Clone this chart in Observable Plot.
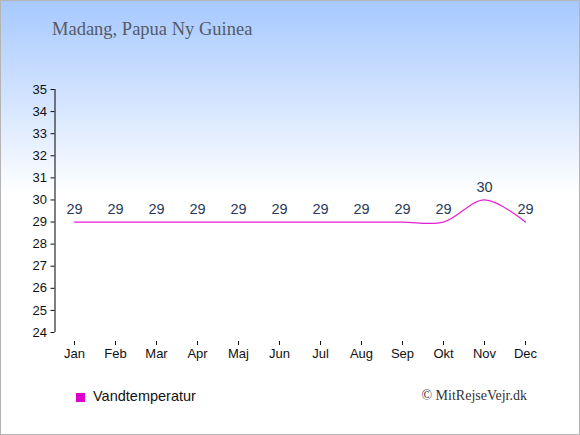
<!DOCTYPE html>
<html>
<head>
<meta charset="utf-8">
<script src="https://cdn.jsdelivr.net/npm/d3@7"></script>
<script src="https://cdn.jsdelivr.net/npm/@observablehq/plot@0.6"></script>
<style>
  body { margin: 0; }
  #wrap {
    position: relative; width: 580px; height: 435px; overflow: hidden;
    background: linear-gradient(to bottom, #a6c9ff 0px, #d3e4ff 100px, #ffffff 195px, #ffffff 435px);
    box-shadow: inset 0 0 0 1px #b4b4b4;
    font-family: "Liberation Sans", Arial, sans-serif;
  }
  #wrap svg { position: absolute; left: 0; top: 0; background: transparent; }
  .title { position: absolute; left: 52px; top: 19px; font-family: "Liberation Serif", serif; font-size: 18.5px; color: #555a66; white-space: nowrap; }
  .legend { position: absolute; left: 76px; top: 388px; font-size: 14.5px; color: #111; white-space: nowrap; }
  .legend .sw { display: inline-block; width: 9px; height: 9px; background: #dd00cc; margin-right: 8px; vertical-align: -1px; }
  .copy { position: absolute; right: 53px; top: 388px; font-family: "Liberation Serif", serif; font-size: 14px; color: #333; white-space: nowrap; }
</style>
</head>
<body>
<div id="wrap">
  <div class="title">Madang, Papua Ny Guinea</div>
  <div class="legend"><span class="sw"></span>Vandtemperatur</div>
  <div class="copy">© MitRejseVejr.dk</div>
</div>
<script>
const months = ["Jan","Feb","Mar","Apr","Maj","Jun","Jul","Aug","Sep","Okt","Nov","Dec"];
const waterTemp = [29,29,29,29,29,29,29,29,29,29,30,29];
const yTicks = [24,25,26,27,28,29,30,31,32,33,34,35];

const data = months.map((m, i) => ({month: m, temp: waterTemp[i]}));

const chart = Plot.plot({
  width: 580,
  height: 435,
  marginLeft: 74,
  marginRight: 55,
  marginTop: 89,
  marginBottom: 103,
  style: {background: "transparent", fontFamily: "'Liberation Sans', Arial, sans-serif"},
  x: {type: "point", domain: months, padding: 0},
  y: {domain: [24, 35]},
  marks: [
    Plot.ruleX(["Jan"], {y1: 24, y2: 35, dx: -19.5, stroke: "#000"}),
    Plot.ruleY([24], {x1: "Jan", x2: "Dec", dy: 9, stroke: "#000"}),
    Plot.axisY({ticks: yTicks, tickSize: 4, tickPadding: 4, dx: -19.5, fontSize: 13, color: "#111", label: null, tickFormat: d => String(d)}),
    Plot.axisX({tickSize: 4, tickPadding: 3, dy: 9, fontSize: 13, color: "#111", label: null}),
    Plot.line(data, {x: "month", y: "temp", curve: "catmull-rom", stroke: "#e61fd3", strokeWidth: 1.2}),
    Plot.text(data, {x: "month", y: "temp", text: d => String(d.temp), dy: -13, fill: "#2a3a5c", fontSize: 14.5})
  ]
});
document.getElementById("wrap").appendChild(chart);
</script>
</body>
</html>
